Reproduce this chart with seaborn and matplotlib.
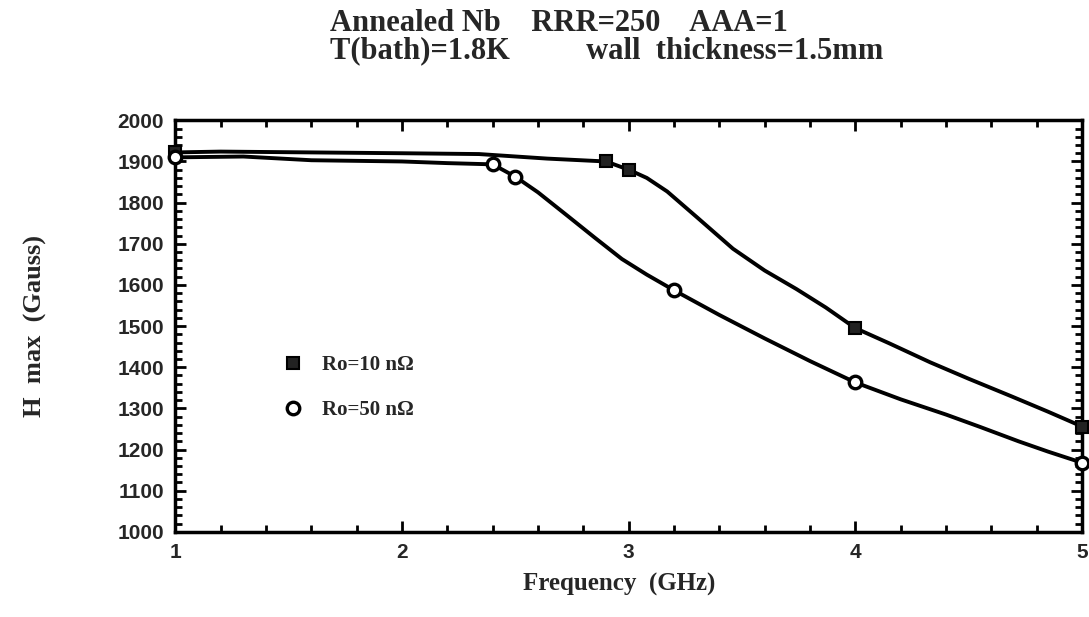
import numpy as np
import pandas as pd
import matplotlib
matplotlib.use('Agg')
from matplotlib import pyplot as plt
from matplotlib.ticker import MultipleLocator
import seaborn as sns

# measured points (markers)
freq_10 = [1.0, 2.9, 3.0, 4.0, 5.0]
hmax_10 = [1922, 1900, 1880, 1495, 1256]
freq_50 = [1.0, 2.4, 2.5, 3.2, 4.0, 5.0]
hmax_50 = [1910, 1893, 1863, 1587, 1363, 1168]

# hand-drawn curve traces
curve_x_10 = [1.0, 1.2, 1.6, 2.0, 2.34, 2.64, 2.9, 3.0, 3.08, 3.17, 3.3, 3.46, 3.6, 3.74,
              3.87, 4.0, 4.15, 4.33, 4.5, 4.69, 4.85, 5.0]
curve_y_10 = [1922, 1924, 1922, 1920, 1918, 1907, 1900, 1880, 1860, 1827, 1765, 1688, 1635,
              1590, 1545, 1495, 1458, 1412, 1372, 1329, 1292, 1256]
curve_x_50 = [1.0, 1.3, 1.6, 2.0, 2.2, 2.4, 2.5, 2.6, 2.73, 2.85, 2.97, 3.08, 3.2, 3.4, 3.6,
              3.8, 4.0, 4.2, 4.4, 4.55, 4.72, 4.85, 5.0]
curve_y_50 = [1910, 1912, 1903, 1900, 1896, 1893, 1863, 1825, 1768, 1715, 1663, 1625, 1587,
              1527, 1470, 1415, 1363, 1322, 1285, 1255, 1220, 1195, 1168]

labels = ['Ro=10 n\u03a9', 'Ro=50 n\u03a9']
title = ('Annealed Nb    RRR=250    AAA=1\n'
         'T(bath)=1.8K' + ' ' * 10 + 'wall  thickness=1.5mm')

sns.set_theme(style='ticks')
plt.rcParams['font.family'] = ['Liberation Sans', 'DejaVu Sans']
serif = ['Liberation Serif', 'DejaVu Serif']

fig = plt.figure(figsize=(10.89, 6.17), dpi=100)
ax = fig.add_axes([0.161, 0.138, 0.8326, 0.667])

sns.lineplot(x=curve_x_10, y=curve_y_10, ax=ax, color='black', lw=2.8, sort=False)
sns.lineplot(x=curve_x_50, y=curve_y_50, ax=ax, color='black', lw=2.8, sort=False)
ax.plot(freq_10, hmax_10, ls='none', marker='s', ms=9, mfc='#222222', mec='black',
        mew=1.5, label=labels[0], clip_on=False, zorder=5)
ax.plot(freq_50, hmax_50, ls='none', marker='o', ms=9, mfc='white', mec='black',
        mew=2.4, label=labels[1], clip_on=False, zorder=5)

ax.set_xlim(1, 5); ax.set_ylim(1000, 2000)
ax.xaxis.set_major_locator(MultipleLocator(1)); ax.xaxis.set_minor_locator(MultipleLocator(0.2))
ax.yaxis.set_major_locator(MultipleLocator(100)); ax.yaxis.set_minor_locator(MultipleLocator(20))
ax.tick_params(which='both', direction='in', top=True, right=True, width=2, color='black')
ax.tick_params(which='major', length=8, labelsize=15, pad=8)
ax.tick_params(which='minor', length=5)
for lab in ax.get_xticklabels() + ax.get_yticklabels():
    lab.set_fontweight('bold')
for sp in ax.spines.values():
    sp.set_linewidth(2.5); sp.set_color('black')

ax.set_xlabel('Frequency  (GHz)', family=serif, fontweight='bold', fontsize=18)
ax.set_ylabel('H  max  (Gauss)', family=serif, fontweight='bold', fontsize=19)
ax.xaxis.set_label_coords(0.49, -0.1)
ax.yaxis.set_label_coords(-0.142, 0.5)

ax.legend(loc='center left', bbox_to_anchor=(0.095, 0.35), frameon=False,
          prop={'family': serif, 'weight': 'bold', 'size': 15},
          handletextpad=0.8, labelspacing=1.2, handlelength=1.2)

fig.text(0.303, 0.985, title, family=serif, fontweight='bold', fontsize=22,
         ha='left', va='top', linespacing=0.92)

plt.savefig('out.png', dpi=100)
plt.close()
